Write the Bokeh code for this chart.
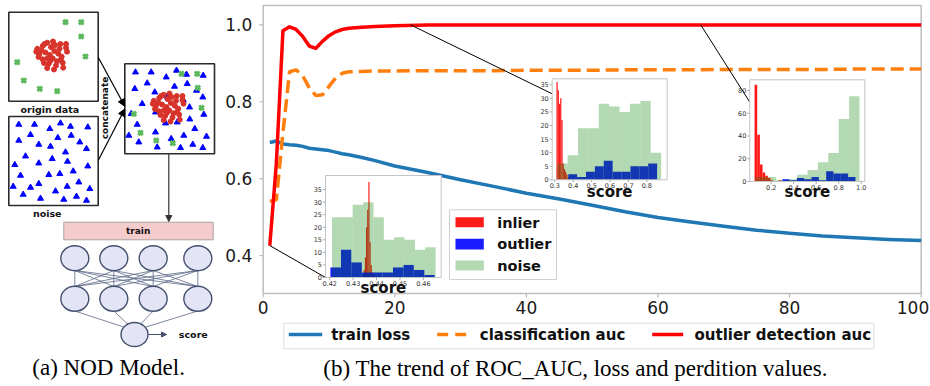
import math
from bokeh.plotting import figure
from bokeh.models import Range1d, Arrow, NormalHead
from bokeh.core.properties import value
from bokeh.embed import file_html
from bokeh.resources import INLINE

# ---------------- data (main chart) ----------------
epochs = [1, 2, 3, 4, 5, 6, 7, 8, 9, 10, 11, 12, 13, 15, 17, 20,
          25, 30, 35, 40, 45, 50, 55, 60, 65, 70, 75, 80, 85, 90, 95, 100]
train_loss = [0.694, 0.698, 0.690, 0.688, 0.687, 0.684, 0.679, 0.677, 0.675, 0.673, 0.669, 0.665, 0.662,
              0.655, 0.647, 0.633,
              0.616, 0.597, 0.580, 0.562, 0.547, 0.531, 0.514, 0.499, 0.487, 0.476, 0.466, 0.458,
              0.451, 0.446, 0.442, 0.439]
classification_auc = [0.541, 0.545, 0.720, 0.878, 0.883, 0.868, 0.836, 0.816, 0.818, 0.840, 0.862, 0.874, 0.878,
                      0.879, 0.880, 0.880,
                      0.881, 0.881, 0.881, 0.882, 0.882, 0.882, 0.883, 0.883, 0.883, 0.884, 0.884, 0.884,
                      0.884, 0.885, 0.885, 0.885]
outlier_detection_auc = [0.426, 0.640, 0.985, 0.995, 0.988, 0.970, 0.945, 0.939, 0.957, 0.972, 0.982, 0.988, 0.991,
                         0.994, 0.996, 0.998,
                         1.0, 1.0, 1.0, 1.0, 1.0, 1.0, 1.0, 1.0, 1.0, 1.0, 1.0, 1.0, 1.0, 1.0, 1.0, 1.0]
series_names = ["train loss", "classification auc", "outlier detection auc"]
main_xticks = [0, 20, 40, 60, 80, 100]
main_xtick_labels = ["0", "20", "40", "60", "80", "100"]
main_yticks = [0.4, 0.6, 0.8, 1.0]
main_ytick_labels = ["0.4", "0.6", "0.8", "1.0"]

# ---------------- data (score histograms in the insets) ----------------
hist_names = ["inlier", "outlier", "noise"]
inset1_inlier_edges = [0.4340, 0.4345, 0.4350, 0.4355, 0.4360, 0.4365, 0.4370, 0.4375, 0.4380, 0.4385, 0.4390]
inset1_inlier_counts = [1, 3, 8, 20, 27, 38, 14, 5, 2, 1]
inset1_outlier_edges = [0.4203, 0.4248, 0.4292, 0.4337, 0.4381, 0.4426, 0.4470, 0.4515, 0.4559, 0.4604, 0.4648]
inset1_outlier_counts = [4, 11, 6, 2, 2, 2, 4, 5, 3, 1]
inset1_noise_edges = [0.4210, 0.4254, 0.4298, 0.4343, 0.4387, 0.4431, 0.4475, 0.4519, 0.4564, 0.4608, 0.4652]
inset1_noise_counts = [24, 24, 29, 30, 24, 15, 16, 15, 11, 12]
inset1_xticks = [0.42, 0.43, 0.44, 0.45, 0.46]
inset1_xtick_labels = ["0.42", "0.43", "0.44", "0.45", "0.46"]
inset1_yticks = [0, 5, 10, 15, 20, 25, 30, 35]

inset2_inlier_edges = [0.309, 0.3157, 0.3224, 0.3291, 0.3358, 0.3425, 0.3492, 0.3559, 0.3626, 0.3693, 0.376]
inset2_inlier_counts = [36, 33, 28, 30, 22, 6, 4, 3, 2, 1]
inset2_outlier_edges = [0.373, 0.4213, 0.4696, 0.5179, 0.5662, 0.6145, 0.6628, 0.7111, 0.7594, 0.8077, 0.856]
inset2_outlier_counts = [2, 1, 3, 5, 7, 3, 3, 5, 5, 6]
inset2_noise_edges = [0.313, 0.3695, 0.426, 0.4825, 0.539, 0.5955, 0.652, 0.7085, 0.765, 0.8215, 0.878]
inset2_noise_counts = [6, 9, 19, 19, 28, 27, 25, 28, 29, 10]
inset2_xticks = [0.3, 0.4, 0.5, 0.6, 0.7, 0.8]
inset2_xtick_labels = ["0.3", "0.4", "0.5", "0.6", "0.7", "0.8"]
inset2_yticks = [0, 5, 10, 15, 20, 25, 30, 35]

inset3_inlier_edges = [0.052, 0.0757, 0.0994, 0.1231, 0.1468, 0.1705, 0.1942, 0.2179, 0.2416, 0.2653, 0.289]
inset3_inlier_counts = [85, 41, 15, 8, 5, 3, 1, 0, 0, 1]
inset3_outlier_edges = [0.298, 0.3631, 0.4282, 0.4933, 0.5584, 0.6235, 0.6886, 0.7537, 0.8188, 0.8839, 0.949]
inset3_outlier_counts = [2, 1, 3, 2, 4, 1, 9, 7, 7, 4]
inset3_noise_edges = [0.060, 0.1525, 0.245, 0.3375, 0.430, 0.5225, 0.615, 0.7075, 0.800, 0.8925, 0.985]
inset3_noise_counts = [4, 4, 1, 2, 6, 10, 17, 25, 55, 75]
inset3_xticks = [0.2, 0.4, 0.6, 0.8, 1.0]
inset3_xtick_labels = ["0.2", "0.4", "0.6", "0.8", "1.0"]
inset3_yticks = [0, 20, 40, 60, 80]

# epochs the insets zoom into (annotation anchors on the curves)
inset_anchor_x = [1, 22.4, 66.5]
inset_anchor_y = [0.426, 1.0, 1.0]

SANS = value("DejaVu Sans")
SERIF = value("Liberation Serif")

# ---------------- canvas (pixel coordinates) ----------------
p = figure(width=930, height=386, x_range=Range1d(0, 930), y_range=Range1d(386, 0),
           output_backend="svg", toolbar_location=None, tools="",
           x_axis_location=None, y_axis_location=None, min_border=0)
p.grid.visible = False
p.outline_line_color = None
p.background_fill_color = "white"
p.border_fill_color = "white"

# ================= (a) NOD model diagram =================
origin_inliers = [(46.7, 42.2), (42.2, 45.5), (50.5, 46.5), (36.8, 48.3), (59.8, 43.5), (65.5, 47.3),
                  (53.8, 50.5), (45, 52), (38.8, 53.8), (49.3, 54.5), (57.8, 53.2), (66.5, 51.2),
                  (61.2, 56.2), (42.2, 58.8), (52.2, 57.8), (56.5, 60.8), (48.3, 63.2), (62.2, 62.2),
                  (46.7, 67.5), (62.7, 67.2), (35.8, 51.2), (54.5, 44.5), (41.2, 50.2), (50, 60.2),
                  (59, 48.3), (44, 43.5), (52.5, 41), (38, 56.5), (55.5, 65), (47, 57.8), (60.3, 59.3),
                  (43.5, 62.5), (53.5, 69), (65.5, 43.5)]
origin_outliers = [(65, 21.7), (80.7, 21.7), (80.7, 36), (85, 56), (16.7, 61.7), (23.3, 80), (39.3, 88.3),
                   (56.7, 90.7)]
noise_pts = [(18.3, 124), (34, 124), (49.3, 128.3), (60, 122.7), (70, 126), (87.3, 126.7), (30, 134.3),
             (57.3, 137.3), (70.7, 135), (18.3, 140), (38.3, 144), (50, 146), (79.3, 141.7), (86, 148.3),
             (25, 155.7), (65, 151.7), (51.7, 158.3), (14.3, 164.3), (38.3, 162.7), (87.3, 165.7), (20, 175),
             (72.7, 170.7), (48.3, 174.3), (59.3, 173.3), (38.3, 183.3), (78.3, 181.7), (66.7, 186),
             (12.7, 186), (55, 190.7), (89.3, 188.3), (22.7, 194), (40, 198), (76, 196), (86, 200),
             (63.3, 199), (30, 187), (67, 161)]
concat_noise = [(135, 71.7), (150.7, 71.7), (165.7, 76.7), (176, 70), (186, 74), (202.7, 75), (146.7, 82.7),
                (134.3, 88.3), (174, 86), (186.7, 83.3), (154.3, 91.7), (196, 90), (202.3, 96.7),
                (141.7, 103.3), (130.7, 113.3), (155, 111.7), (189, 106.7), (182.7, 99.3), (203.3, 114),
                (136.7, 124), (165, 122.7), (176.7, 121.7), (189.3, 118.7), (128.3, 135), (155, 131.7),
                (138.3, 141.7), (183.3, 135), (194.3, 128.3), (206, 136), (170.7, 138.3), (156.7, 146.7),
                (180, 147.3), (192.3, 144), (202.3, 147.3), (166.7, 96)]
concat_outliers = [(181, 73.3), (196.7, 73.3), (197.3, 87.3), (201, 107.3), (133.3, 113.3), (140, 132.3),
                   (155.7, 140), (172.3, 142.7)]

box_kw = dict(fill_color="white", line_color="#2b2b2b", line_width=1.6)
p.quad(left=8.3, right=97.7, top=11.7, bottom=100.7, **box_kw)
p.quad(left=8.3, right=97.7, top=116, bottom=205, **box_kw)
p.quad(left=124.3, right=214, top=63.3, bottom=153.3, **box_kw)

RED_DOT = "#D8332A"
GREEN_X = "#5CB85C"
p.scatter([q[0] for q in origin_inliers], [q[1] for q in origin_inliers], size=5, color=RED_DOT)
p.scatter([q[0] for q in origin_outliers], [q[1] for q in origin_outliers], marker="x", size=6.5,
          line_color=GREEN_X, line_width=3)
p.scatter([q[0] for q in noise_pts], [q[1] for q in noise_pts], marker="triangle", size=6, color="blue")
p.scatter([q[0] for q in concat_noise], [q[1] for q in concat_noise], marker="triangle", size=6, color="blue")
p.scatter([q[0] + 116.5 for q in origin_inliers], [q[1] + 52 for q in origin_inliers], size=5, color=RED_DOT)
p.scatter([q[0] for q in concat_outliers], [q[1] for q in concat_outliers], marker="x", size=6.5,
          line_color=GREEN_X, line_width=3)

small_bold = dict(text_font=SANS, text_font_style="bold", text_color="#111111",
                  text_align="center", text_baseline="middle")
p.text(x=[49.3], y=[109], text=["origin data"], text_font_size="9.5px", **small_bold)
p.text(x=[46.7], y=[213.3], text=["noise"], text_font_size="9.5px", **small_bold)
p.text(x=[104.5], y=[107.5], text=["concatenate"], angle=math.pi / 2, text_font_size="9px", **small_bold)

p.add_layout(Arrow(end=NormalHead(size=7, fill_color="black", line_color="black"),
                   x_start=97.7, y_start=56.7, x_end=124.3, y_end=105.8, line_width=1.2, line_color="black"))
p.add_layout(Arrow(end=NormalHead(size=7, fill_color="black", line_color="black"),
                   x_start=97.7, y_start=160, x_end=124.3, y_end=108.5, line_width=1.2, line_color="black"))
p.add_layout(Arrow(end=NormalHead(size=6, fill_color="#333333", line_color="#333333"),
                   x_start=168.3, y_start=153.3, x_end=168.3, y_end=221, line_width=1.2, line_color="#333333"))

p.quad(left=63.3, right=212.7, top=221.7, bottom=239.3, fill_color="#F4CCCC", line_color="#A8A0A0", line_width=1)
p.text(x=[137.7], y=[230.7], text=["train"], text_font_size="9px", **small_bold)

layer1_x = [74.3, 113.3, 152.7, 197.3]
layer2_x = [74.3, 113.3, 152.7, 197.3]
x0s, y0s, x1s, y1s = [], [], [], []
for a in layer1_x:
    for b in layer2_x:
        x0s.append(a); y0s.append(270); x1s.append(b); y1s.append(286)
for b in layer2_x:
    x0s.append(b); y0s.append(310.5); x1s.append(134); y1s.append(330)
p.segment(x0=x0s, y0=y0s, x1=x1s, y1=y1s, line_color="#5A6786", line_width=0.8)
node_kw = dict(fill_color="#E3E5F7", line_color="#44506E", line_width=1.4)
p.ellipse(x=layer1_x, y=[257.7] * 4, width=28, height=25, **node_kw)
p.ellipse(x=layer2_x, y=[298.3] * 4, width=28, height=25, **node_kw)
p.ellipse(x=[134], y=[334], width=27, height=24, **node_kw)
p.add_layout(Arrow(end=NormalHead(size=5, fill_color="#44506E", line_color="#44506E"),
                   x_start=148, y_start=334, x_end=166, y_end=334, line_width=1.1, line_color="#44506E"))
p.text(x=[192.8], y=[334], text=["score"], text_font_size="9.5px", **small_bold)

# ================= (b) main chart =================
MX0, MX1 = 0, 100
MY0, MY1 = 0.3013, 1.0504
main = p.subplot(x_source=Range1d(MX0, MX1), y_source=Range1d(MY0, MY1),
                 x_target=Range1d(262.7, 920.7), y_target=Range1d(293, 5))
ppx = (MX1 - MX0) / (920.7 - 262.7)
ppy = (MY1 - MY0) / (293 - 5)
main.quad(left=MX0, right=MX1, bottom=MY0, top=MY1, fill_color=None, line_color="#BDBDBD", line_width=1.5)
main.segment(x0=main_xticks, y0=[MY0] * len(main_xticks), x1=main_xticks, y1=[MY0 - 4 * ppy] * len(main_xticks),
             line_color="#BDBDBD", line_width=1.2)
main.segment(x0=[MX0] * len(main_yticks), y0=main_yticks, x1=[MX0 - 4 * ppx] * len(main_yticks), y1=main_yticks,
             line_color="#BDBDBD", line_width=1.2)
tick_font = dict(text_font=SANS, text_font_size="17px", text_color="#1a1a1a")
main.text(x=main_xticks[:-1], y=[MY0] * (len(main_xticks) - 1), text=main_xtick_labels[:-1], y_offset=7,
          text_align="center", text_baseline="top", **tick_font)
# last label sits at the window edge: anchor it by its right side
main.text(x=main_xticks[-1:], y=[MY0], text=main_xtick_labels[-1:], y_offset=7, x_offset=8,
          text_align="right", text_baseline="top", **tick_font)
main.text(x=[MX0] * len(main_yticks), y=main_yticks, text=main_ytick_labels, x_offset=-11,
          text_align="right", text_baseline="middle", **tick_font)

C_LOSS, C_CLS, C_OD = "#1F77B4", "#FF7F0E", "#FF0000"
main.line(epochs, train_loss, line_color=C_LOSS, line_width=3.5, line_join="round")
main.line(epochs, classification_auc, line_color=C_CLS, line_width=3.5, line_dash="13 6")
main.line(epochs, outlier_detection_auc, line_color=C_OD, line_width=3.5, line_join="round")

# connector lines to inset corners (inset corner positions expressed in main data units)
corner_px = [(325, 277), (551.7, 93.3), (749.3, 101.7)]
main.segment(x0=inset_anchor_x, y0=inset_anchor_y,
             x1=[MX0 + (c[0] - 262.7) * ppx for c in corner_px],
             y1=[MY0 + (293 - c[1]) * ppy for c in corner_px],
             line_color="black", line_width=1)


def draw_inset(xsrc, ysrc, xtgt, ytgt, hists, xticks, xlabels, yticks, score_off):
    s = p.subplot(x_source=Range1d(*xsrc), y_source=Range1d(*ysrc),
                  x_target=Range1d(*xtgt), y_target=Range1d(*ytgt))
    dx = (xsrc[1] - xsrc[0]) / (xtgt[1] - xtgt[0])
    dy = (ysrc[1] - ysrc[0]) / abs(ytgt[1] - ytgt[0])
    s.quad(left=xsrc[0], right=xsrc[1], bottom=ysrc[0], top=ysrc[1], fill_color="white", line_color=None)
    for (edges, counts), color, alpha in zip(hists, ["red", "blue", "green"], [0.9, 0.9, 0.3]):
        s.quad(left=edges[:-1], right=edges[1:], bottom=0, top=counts,
               fill_color=color, fill_alpha=alpha, line_color=None)
    s.quad(left=xsrc[0], right=xsrc[1], bottom=ysrc[0], top=ysrc[1], fill_color=None,
           line_color="#C4C4C4", line_width=1)
    n, m = len(xticks), len(yticks)
    s.segment(x0=xticks, y0=[ysrc[0]] * n, x1=xticks, y1=[ysrc[0] - 2.5 * dy] * n,
              line_color="#999999", line_width=0.8)
    s.segment(x0=[xsrc[0]] * m, y0=yticks, x1=[xsrc[0] - 2.5 * dx] * m, y1=yticks,
              line_color="#999999", line_width=0.8)
    s.text(x=xticks, y=[ysrc[0]] * n, text=xlabels, y_offset=3, text_align="center", text_baseline="top",
           text_font=SANS, text_font_size="6.5px", text_color="#333333")
    s.text(x=[xsrc[0]] * m, y=yticks, text=[str(t) for t in yticks], x_offset=-3.5, text_align="right",
           text_baseline="middle", text_font=SANS, text_font_size="6.5px", text_color="#333333")
    s.text(x=[(xsrc[0] + xsrc[1]) / 2], y=[ysrc[0]], text=["score"], y_offset=score_off,
           text_align="center", text_baseline="middle", text_font=SANS, text_font_style="bold",
           text_font_size="15px", text_color="#111111")


draw_inset((0.4182, 0.4676), (0, 40.6), (325, 440.7), (277, 175),
           [(inset1_inlier_edges, inset1_inlier_counts), (inset1_outlier_edges, inset1_outlier_counts),
            (inset1_noise_edges, inset1_noise_counts)],
           inset1_xticks, inset1_xtick_labels, inset1_yticks, 10.3)
draw_inset((0.2859, 0.9109), (0, 37.2), (551.7, 666.7), (179.3, 78.3),
           [(inset2_inlier_edges, inset2_inlier_counts), (inset2_outlier_edges, inset2_outlier_counts),
            (inset2_noise_edges, inset2_noise_counts)],
           inset2_xticks, inset2_xtick_labels, inset2_yticks, 12.4)
draw_inset((0.0098, 1.032), (0, 89.4), (749.3, 864.3), (181, 79.3),
           [(inset3_inlier_edges, inset3_inlier_counts), (inset3_outlier_edges, inset3_outlier_counts),
            (inset3_noise_edges, inset3_noise_counts)],
           inset3_xticks, inset3_xtick_labels, inset3_yticks, 10.7)

# histogram legend
p.quad(left=449, right=556, top=209.3, bottom=279, fill_color="white", fill_alpha=0.85,
       line_color="#D0D0D0", line_width=1)
p.quad(left=[455] * 3, right=[483.3] * 3, top=[216.7, 238.3, 260], bottom=[226.7, 249, 270],
       fill_color=["#FF1A1A", "#1A1AFF", "#B2D9B2"], line_color=None)
p.text(x=[496.7] * 3, y=[222, 243.7, 265.7], text=hist_names, text_font=SANS, text_font_style="bold",
       text_font_size="14.5px", text_baseline="middle", text_align="left", text_color="#111111")

# series legend
p.quad(left=283.3, right=873.3, top=322.7, bottom=348.3, fill_color="white", line_color="#DDDDDD", line_width=1)
p.segment(x0=[288.3], y0=[334], x1=[321.7], y1=[334], line_color=C_LOSS, line_width=3.5)
p.segment(x0=[436.7], y0=[334], x1=[466], y1=[334], line_color=C_CLS, line_width=3.5, line_dash="11 7")
p.segment(x0=[651.7], y0=[334], x1=[682.7], y1=[334], line_color=C_OD, line_width=3.5)
p.text(x=[330.7, 479.3, 694], y=[334] * 3, text=series_names, text_font=SANS, text_font_style="bold",
       text_font_size="15px", text_baseline="middle", text_align="left", text_color="#111111")

# captions
p.text(x=[111], y=[367], text=["(a)  NOD Model."], text_font=SERIF, text_font_size="23px",
       text_align="center", text_baseline="middle", text_color="black")
p.text(x=[578], y=[368], text=["(b)  The trend of ROC_AUC, loss and perdition values."], text_font=SERIF,
       text_font_size="23px", text_align="center", text_baseline="middle", text_color="black")

open("out.html", "w").write(file_html(p, INLINE))
